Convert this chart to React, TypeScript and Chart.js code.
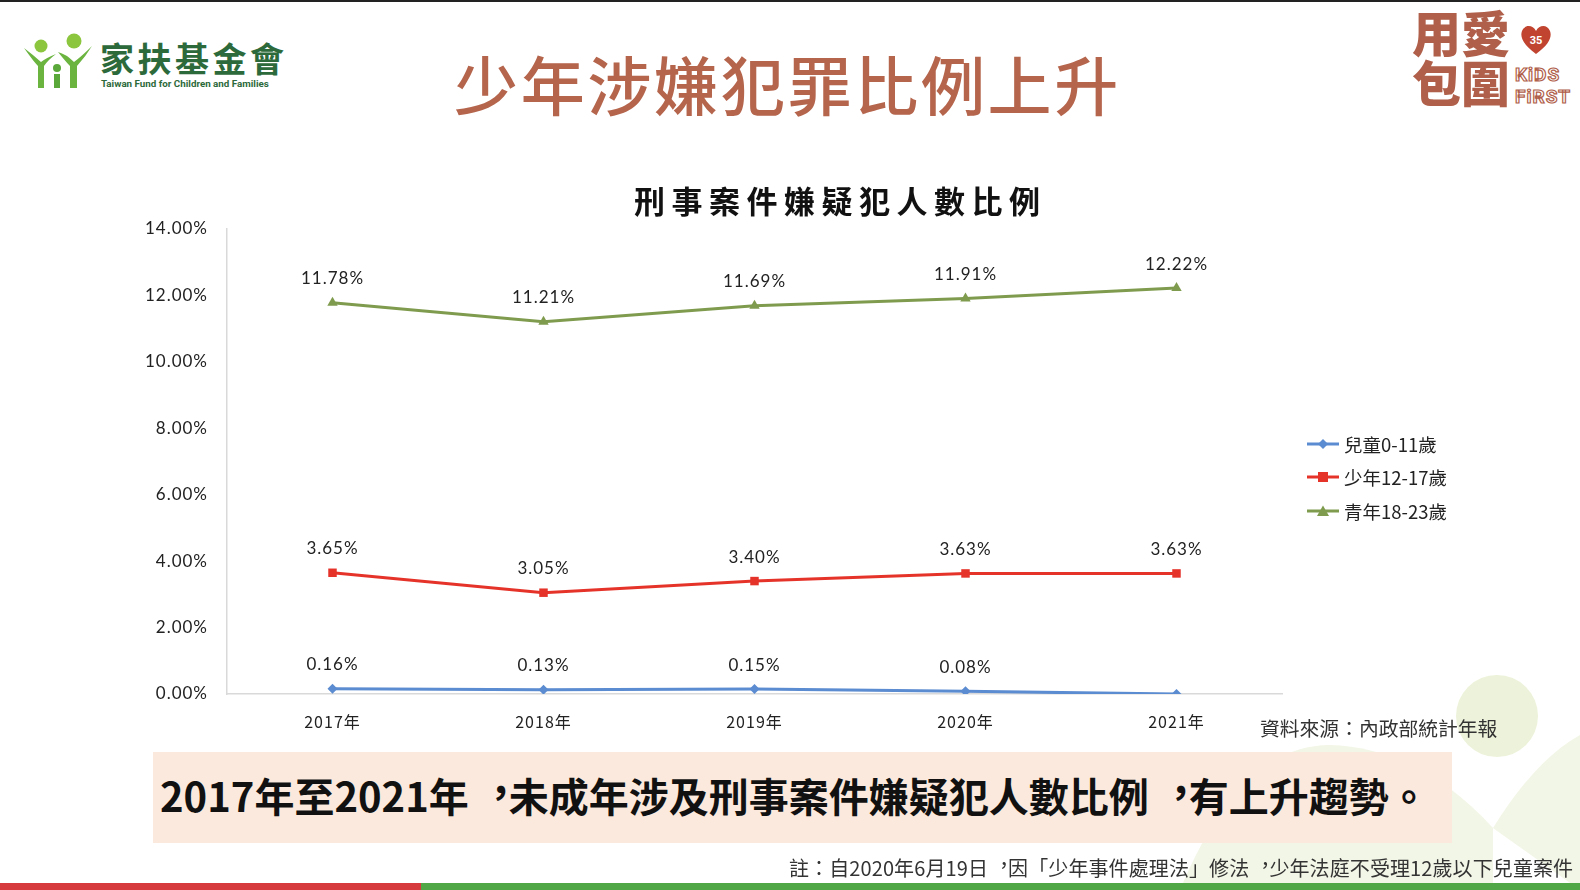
import React, { useEffect, useRef } from "react";
import { Chart, registerables } from "chart.js";
Chart.register(...registerables);

const years = ["2017年", "2018年", "2019年", "2020年", "2021年"];
const childRatio = [0.16, 0.13, 0.15, 0.08, 0];
const teenRatio = [3.65, 3.05, 3.4, 3.63, 3.63];
const youthRatio = [11.78, 11.21, 11.69, 11.91, 12.22];
const seriesNames = ["兒童0-11歲", "少年12-17歲", "青年18-23歲"];
const seriesColors = ["#5b8bd0", "#e5332a", "#7f9b4e"];
const yMin = 0;
const yMax = 14;
const yStep = 2;

const CJK = '"Noto Sans CJK TC", "Noto Sans CJK SC", sans-serif';
const NUM = 'Lato, "Noto Sans CJK TC", sans-serif';

const spacingPlugin = {
  id: "spacing",
  beforeDraw(chart: any) {
    (chart.ctx as any).letterSpacing = "1px";
  },
};

const labelPlugin = {
  id: "valueLabels",
  afterDatasetsDraw(chart: any) {
    const ctx = chart.ctx;
    ctx.save();
    ctx.font = "17px " + NUM;
    ctx.fillStyle = "#222";
    ctx.textAlign = "center";
    ctx.textBaseline = "middle";
    chart.data.datasets.forEach((ds: any, i: number) => {
      const meta = chart.getDatasetMeta(i);
      meta.data.forEach((pt: any, j: number) => {
        const v = ds.data[j];
        if (!v) return;
        ctx.fillText(v.toFixed(2) + "%", pt.x, pt.y - 24);
      });
    });
    ctx.restore();
  },
};

function ChartCanvas() {
  const ref = useRef<HTMLCanvasElement | null>(null);
  useEffect(() => {
    if (!ref.current) return;
    const styles = [
      { style: "rectRot", radius: 5 },
      { style: "rect", radius: 6 },
      { style: "triangle", radius: 6 },
    ];
    const data = [childRatio, teenRatio, youthRatio];
    const chart = new Chart(ref.current, {
      type: "line",
      data: {
        labels: years,
        datasets: data.map((d, i) => ({
          label: seriesNames[i],
          data: d,
          borderColor: seriesColors[i],
          backgroundColor: seriesColors[i],
          borderWidth: 3,
          pointStyle: styles[i].style as any,
          pointRadius: styles[i].radius,
          pointBorderWidth: 0,
          tension: 0,
        })),
      },
      options: {
        animation: false,
        responsive: false,
        layout: { padding: { left: 127, top: 229, right: 298, bottom: 146 } },
        plugins: { legend: { display: false }, tooltip: { enabled: false }, title: { display: false } },
        scales: {
          x: {
            offset: true,
            grid: { display: false, drawTicks: false },
            border: { color: "#d9d9d9", width: 1.5 },
            ticks: { color: "#222", padding: 18, font: { size: 16, family: CJK } },
            afterFit: (s: any) => {
              s.height = 50;
            },
          },
          y: {
            min: yMin,
            max: yMax,
            grid: { display: false, drawTicks: false },
            border: { color: "#d9d9d9", width: 1.5 },
            ticks: {
              stepSize: yStep,
              color: "#222",
              padding: 19,
              font: { size: 17, family: NUM },
              callback: (v: any) => Number(v).toFixed(2) + "%",
            },
            afterFit: (s: any) => {
              s.width = 100;
            },
          },
        },
      },
      plugins: [spacingPlugin, labelPlugin],
    });
    return () => chart.destroy();
  }, []);
  return (
    <canvas
      ref={ref}
      width={1580}
      height={890}
      style={{ position: "absolute", left: 0, top: 0, width: 1580, height: 890 }}
    />
  );
}

function LegendIcon({ i }: { i: number }) {
  const c = seriesColors[i];
  return (
    <svg width={32} height={14} style={{ marginRight: 5 }}>
      <line x1={0} y1={7} x2={32} y2={7} stroke={c} strokeWidth={3} />
      {i === 0 && <polygon points="16,2 21,7 16,12 11,7" fill={c} />}
      {i === 1 && <rect x={11} y={2} width={10} height={10} fill={c} />}
      {i === 2 && <polygon points="16,1.5 22,12 10,12" fill={c} />}
    </svg>
  );
}

// render full-width commas centred, as in Traditional Chinese typography
function TCText({ text }: { text: string }) {
  const parts = text.split("，");
  const out: any[] = [];
  parts.forEach((p, i) => {
    out.push(<React.Fragment key={"t" + i}>{p}</React.Fragment>);
    if (i < parts.length - 1)
      out.push(
        <span key={"c" + i} style={{ display: "inline-block", transform: "translate(0.3em,-0.13em)" }}>
          ，
        </span>
      );
  });
  return <>{out}</>;
}

export default function App() {
  const brown = "#b5654c";
  return (
    <div
      lang="zh-TW"
      style={{
        position: "fixed",
        left: 0,
        top: 0,
        width: 1580,
        height: 890,
        background: "#fff",
        overflow: "hidden",
        fontFamily: CJK,
      }}
    >
      {/* background decorations */}
      <svg width={1580} height={890} style={{ position: "absolute", left: 0, top: 0 }}>
        <path d="M1180,890 Q1240,745 1330,745 Q1420,748 1493,828 L1493,890 Z" fill="#f2f6e6" />
        <path d="M1493,828 Q1535,760 1580,735 L1580,890 Z" fill="#f2f6e6" />
        <circle cx={1497} cy={716} r={41} fill="#edf3da" />
        <rect x={0} y={0} width={1580} height={2} fill="#222" />
        <rect x={0} y={883} width={421} height={7} fill="#d63a3c" />
        <rect x={421} y={883} width={1159} height={7} fill="#4fa845" />
      </svg>

      {/* left logo */}
      <svg width={80} height={60} style={{ position: "absolute", left: 22, top: 32 }}>
        <circle cx={19} cy={14} r={6.5} fill="#8cc63f" />
        <circle cx={52} cy={9} r={7.5} fill="#8cc63f" />
        <circle cx={35} cy={36} r={4} fill="#5aa83a" />
        <path d="M2,16 Q12,30 16,34 L16,56 L22,56 L22,34 Q26,28 34,22 Q24,26 19,30 Q10,22 2,16 Z" fill="#6ab43f" />
        <path d="M36,20 Q44,30 48,34 L48,56 L55,56 L55,34 Q64,24 70,14 Q60,24 52,30 Q44,22 36,20 Z" fill="#6ab43f" />
        <rect x={32} y={42} width={6} height={14} fill="#5aa83a" />
      </svg>
      <div
        style={{
          position: "absolute",
          left: 100,
          top: 36,
          fontSize: 34,
          fontWeight: 700,
          color: "#2d6a3b",
          letterSpacing: 3.5,
          lineHeight: "44px",
          whiteSpace: "nowrap",
        }}
      >
        家扶基金會
      </div>
      <div
        style={{
          position: "absolute",
          left: 101,
          top: 78,
          fontSize: 9.8,
          fontWeight: 700,
          color: "#2d6a3b",
          fontFamily: "Roboto, sans-serif",
          whiteSpace: "nowrap",
          lineHeight: "12px",
        }}
      >
        Taiwan Fund for Children and Families
      </div>

      {/* main title */}
      <div
        style={{
          position: "absolute",
          left: 454,
          top: 40,
          fontSize: 64,
          fontWeight: 500,
          color: brown,
          letterSpacing: 2.7,
          lineHeight: "84px",
          whiteSpace: "nowrap",
        }}
      >
        少年涉嫌犯罪比例上升
      </div>

      {/* right logo */}
      <div
        style={{
          position: "absolute",
          left: 1412,
          top: 6,
          fontSize: 49,
          fontWeight: 900,
          color: "#b0604a",
          lineHeight: "50px",
          width: 110,
          whiteSpace: "nowrap",
        }}
      >
        <div>用愛</div>
        <div>包圍</div>
      </div>
      <svg width={40} height={36} style={{ position: "absolute", left: 1518, top: 22 }}>
        <path d="M18,32 C4,22 2,14 4,9 C7,2 15,3 18,9 C21,3 29,2 32,9 C34,14 32,22 18,32 Z" fill="#c0442f" />
        <text x={18} y={22} fontSize={11} fill="#fff" textAnchor="middle" fontWeight={700} fontFamily="Roboto">
          35
        </text>
      </svg>
      <div
        style={{
          position: "absolute",
          left: 1515,
          top: 64,
          fontSize: 19,
          fontWeight: 700,
          fontFamily: "Roboto, sans-serif",
          color: "#fff",
          WebkitTextStroke: "1.2px #b0604a",
          lineHeight: "22px",
          letterSpacing: 1,
        }}
      >
        <div>KiDS</div>
        <div>FiRST</div>
      </div>

      <ChartCanvas />

      {/* chart title */}
      <div
        style={{
          position: "absolute",
          left: 634,
          top: 180,
          fontSize: 31,
          fontWeight: 700,
          color: "#111",
          letterSpacing: 6.5,
          lineHeight: "40px",
          whiteSpace: "nowrap",
        }}
      >
        刑事案件嫌疑犯人數比例
      </div>

      {/* legend */}
      <div style={{ position: "absolute", left: 1307, top: 427 }}>
        {seriesNames.map((n, i) => (
          <div
            key={n}
            style={{ display: "flex", alignItems: "center", height: 33.5, fontSize: 18.5, color: "#222", whiteSpace: "nowrap" }}
          >
            <LegendIcon i={i} />
            <span>{n}</span>
          </div>
        ))}
      </div>

      {/* source */}
      <div
        style={{
          position: "absolute",
          left: 1260,
          top: 715,
          fontSize: 19.8,
          color: "#333",
          lineHeight: "26px",
          whiteSpace: "nowrap",
        }}
      >
        資料來源：內政部統計年報
      </div>

      {/* highlight box */}
      <div
        style={{
          position: "absolute",
          left: 153,
          top: 752,
          width: 1299,
          height: 91,
          background: "#fbe9dd",
        }}
      />
      <div
        style={{
          position: "absolute",
          left: 160,
          top: 769,
          fontSize: 40,
          fontWeight: 700,
          color: "#111",
          lineHeight: "52px",
          whiteSpace: "nowrap",
        }}
      >
        <TCText text="2017年至2021年，未成年涉及刑事案件嫌疑犯人數比例，有上升趨勢。" />
      </div>

      {/* note */}
      <div
        style={{
          position: "absolute",
          left: 789,
          top: 855,
          fontSize: 20,
          color: "#333",
          lineHeight: "26px",
          letterSpacing: 0.1,
          whiteSpace: "nowrap",
        }}
      >
        <TCText text="註：自2020年6月19日，因「少年事件處理法」修法，少年法庭不受理12歲以下兒童案件" />
      </div>
    </div>
  );
}
